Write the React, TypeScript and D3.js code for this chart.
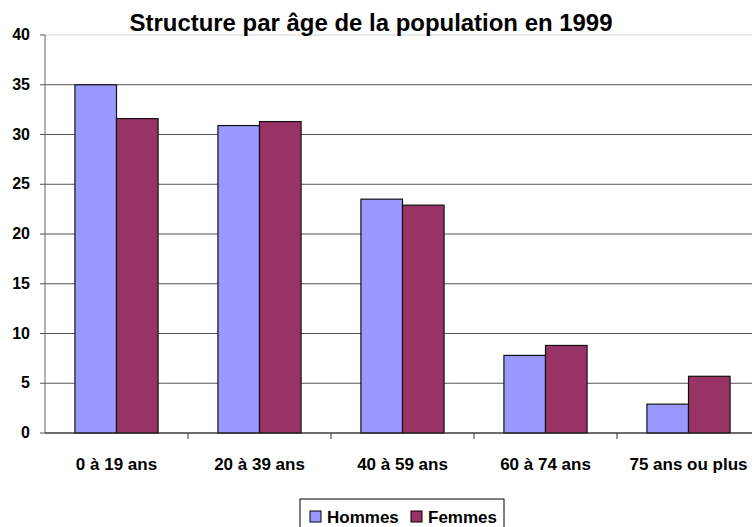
import React from "react";
import * as d3 from "d3";

const categories = ["0 à 19 ans", "20 à 39 ans", "40 à 59 ans", "60 à 74 ans", "75 ans ou plus"];
const seriesNames = ["Hommes", "Femmes"];
const hommes = [35, 30.9, 23.5, 7.8, 2.9];
const femmes = [31.6, 31.3, 22.9, 8.8, 5.7];
const yTicks = [0, 5, 10, 15, 20, 25, 30, 35, 40];
const colors = ["#9999FF", "#993366"];

const W = 752;
const H = 527;
const left = 45;
const right = 760;
const top = 35;
const bottom = 433;

export default function App() {
  const x = d3.scaleBand<string>().domain(categories).range([left, right]).padding(0);
  const inner = d3
    .scaleBand<string>()
    .domain(seriesNames)
    .range([0, x.bandwidth()])
    .paddingOuter(0.72)
    .paddingInner(0);
  const y = d3.scaleLinear().domain([0, 40]).range([bottom, top]);
  const series = [hommes, femmes];
  const font = "'Liberation Sans', Arial, sans-serif";

  return (
    <svg
      width={W}
      height={H}
      style={{ position: "absolute", left: 0, top: 0, background: "#fff" }}
      fontFamily={font}
    >
      {/* grid */}
      {yTicks.map((t) => (
        <line
          key={"g" + t}
          x1={left}
          x2={right}
          y1={y(t)}
          y2={y(t)}
          stroke={t === 40 ? "#d0d0d0" : "#555"}
          strokeWidth={1}
        />
      ))}
      {/* bars */}
      {categories.map((c, i) => (
        <g key={c} transform={`translate(${x(c)},0)`}>
          {series.map((s, j) => (
            <rect
              key={j}
              x={inner(seriesNames[j])}
              y={y(s[i])}
              width={inner.bandwidth()}
              height={y(0) - y(s[i])}
              fill={colors[j]}
              stroke="#111"
              strokeWidth={1.2}
            />
          ))}
        </g>
      ))}
      {/* axes */}
      <line x1={left} x2={left} y1={top} y2={bottom} stroke="#666" />
      <line x1={left} x2={right} y1={bottom} y2={bottom} stroke="#333" />
      {yTicks.map((t) => (
        <g key={"t" + t}>
          <line x1={left - 5} x2={left} y1={y(t)} y2={y(t)} stroke="#555" />
          <text x={30} y={y(t) + 5} textAnchor="end" fontSize={16} fontWeight="bold">
            {t}
          </text>
        </g>
      ))}
      {categories.map((c, i) => (
        <g key={"x" + c}>
          {i > 0 && (
            <line x1={x(c)} x2={x(c)} y1={bottom} y2={bottom + 6} stroke="#333" />
          )}
          <text
            x={(x(c) as number) + x.bandwidth() / 2}
            y={470}
            textAnchor="middle"
            fontSize={17}
            fontWeight="bold"
          >
            {c}
          </text>
        </g>
      ))}
      {/* title */}
      <text
        x={371}
        y={31}
        textAnchor="middle"
        fontSize={24}
        fontWeight="bold"
        textLength={483}
        lengthAdjust="spacingAndGlyphs"
      >
        Structure par âge de la population en 1999
      </text>
      {/* legend */}
      <rect x={300} y={499} width={204} height={40} fill="#fff" stroke="#000" />
      {seriesNames.map((n, j) => (
        <g key={n} transform={`translate(${j === 0 ? 310 : 411},0)`}>
          <rect x={0} y={511} width={11} height={11} fill={colors[j]} stroke="#000" />
          <text x={17} y={523} fontSize={17} fontWeight="bold">
            {n}
          </text>
        </g>
      ))}
    </svg>
  );
}
